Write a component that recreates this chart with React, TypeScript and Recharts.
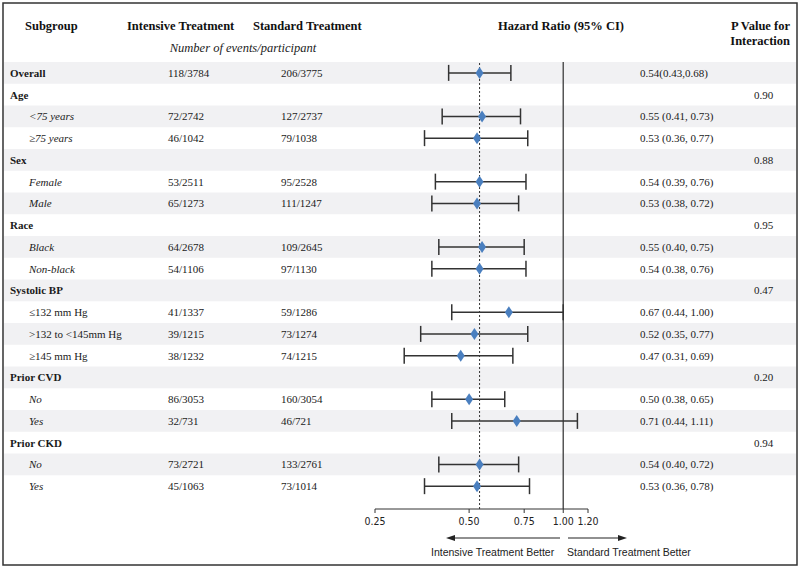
import { ScatterChart, Scatter, XAxis, YAxis, ErrorBar, ReferenceLine } from "recharts"

const subgroups = ["Overall", "Age", "<75 years", "≥75 years", "Sex", "Female", "Male", "Race", "Black", "Non-black",
  "Systolic BP", "≤132 mm Hg", ">132 to <145mm Hg", "≥145 mm Hg", "Prior CVD", "No", "Yes", "Prior CKD", "No", "Yes"]
const rowKind = ["head", "head", "it", "it", "head", "it", "it", "head", "it", "it",
  "head", "plain", "plain", "plain", "head", "it", "it", "head", "it", "it"]
const intensive = ["118/3784", "", "72/2742", "46/1042", "", "53/2511", "65/1273", "", "64/2678", "54/1106",
  "", "41/1337", "39/1215", "38/1232", "", "86/3053", "32/731", "", "73/2721", "45/1063"]
const standard = ["206/3775", "", "127/2737", "79/1038", "", "95/2528", "111/1247", "", "109/2645", "97/1130",
  "", "59/1286", "73/1274", "74/1215", "", "160/3054", "46/721", "", "133/2761", "73/1014"]
const hr = [0.54, null, 0.55, 0.53, null, 0.54, 0.53, null, 0.55, 0.54, null, 0.67, 0.52, 0.47, null, 0.50, 0.71, null, 0.54, 0.53]
const lo = [0.43, null, 0.41, 0.36, null, 0.39, 0.38, null, 0.40, 0.38, null, 0.44, 0.35, 0.31, null, 0.38, 0.44, null, 0.40, 0.36]
const hi = [0.68, null, 0.73, 0.77, null, 0.76, 0.72, null, 0.75, 0.76, null, 1.00, 0.77, 0.69, null, 0.65, 1.11, null, 0.72, 0.78]
const hrText = ["0.54(0.43,0.68)", "", "0.55 (0.41, 0.73)", "0.53 (0.36, 0.77)", "", "0.54 (0.39, 0.76)", "0.53 (0.38, 0.72)", "",
  "0.55 (0.40, 0.75)", "0.54 (0.38, 0.76)", "", "0.67 (0.44, 1.00)", "0.52 (0.35, 0.77)", "0.47 (0.31, 0.69)", "",
  "0.50 (0.38, 0.65)", "0.71 (0.44, 1.11)", "", "0.54 (0.40, 0.72)", "0.53 (0.36, 0.78)"]
const pValues = ["", "0.90", "", "", "0.88", "", "", "0.95", "", "", "0.47", "", "", "", "0.20", "", "", "0.94", "", ""]
const overallHR = 0.54
const xTicks = [0.25, 0.5, 0.75, 1, 1.2]

const points = hr
  .map((v, i) => (v == null ? null : { row: i, hr: v, err: [v - (lo[i] as number), (hi[i] as number) - v] }))
  .filter(Boolean)

const serif = "'Liberation Serif', 'Times New Roman', serif"
const sans = "'Liberation Sans', Arial, sans-serif"
const rowH = 21.75
const rowIdx = subgroups.map((_, i) => i)
const chartMargin = { top: 62, right: 212, bottom: 30, left: 5 }

// stripes, drawn in a chart behind the main one so they sit under the marks
function StripeTick({ y, payload }) {
  if (payload.value % 2 !== 0) return <g />
  return <rect x={4} y={y - rowH / 2} width={792} height={rowH} fill="#f1f1f3" />
}

function RowTick({ y, payload }) {
  const i = payload.value
  const kind = rowKind[i]
  return (
    <g fontFamily={serif} fontSize={11} fill="#1a1a1a">
      <text x={kind === "head" ? 10 : 29} y={y + 4} fontWeight={kind === "head" ? "bold" : "normal"}
        fontStyle={kind === "it" ? "italic" : "normal"} fill="#1a1a1a">{subgroups[i]}</text>
      <text x={168} y={y + 4} fill="#1a1a1a">{intensive[i]}</text>
      <text x={281} y={y + 4} fill="#1a1a1a">{standard[i]}</text>
      <text x={640} y={y + 4} fill="#1a1a1a">{hrText[i]}</text>
      <text x={754} y={y + 4} fill="#1a1a1a">{pValues[i]}</text>
    </g>
  )
}

function Diamond({ cx, cy }) {
  return <polygon points={`${cx},${cy - 6} ${cx + 4},${cy} ${cx},${cy + 6} ${cx - 4},${cy}`} fill="#4a7fbf" />
}

export default function App() {
  return (
    <div style={{ position: "absolute", left: 0, top: 0, width: 800, height: 569, background: "#fff" }}>
      <div style={{ position: "absolute", left: 0, top: 0 }}>
        <ScatterChart width={800} height={569} margin={chartMargin}>
          <YAxis type="number" dataKey="row" domain={[-0.5, 20.05]} reversed width={370}
            ticks={rowIdx} interval={0} axisLine={false} tickLine={false} tick={StripeTick} />
          <XAxis type="number" dataKey="hr" scale="log" domain={[0.25, 1.2]} allowDataOverflow height={30}
            axisLine={false} tickLine={false} tick={false} />
          <Scatter data={points} shape={() => <g />} isAnimationActive={false} />
        </ScatterChart>
      </div>
      <div style={{ position: "absolute", left: 0, top: 0 }}>
        <ScatterChart width={800} height={569} margin={chartMargin}>
          <YAxis type="number" dataKey="row" domain={[-0.5, 20.05]} reversed width={370}
            ticks={rowIdx} interval={0} axisLine={false} tickLine={false} tick={RowTick} />
          <XAxis type="number" dataKey="hr" scale="log" domain={[0.25, 1.2]} ticks={xTicks} interval={0}
            allowDataOverflow height={30} stroke="#333" tickSize={4} tickMargin={5}
            tickFormatter={v => v.toFixed(2)}
            tick={{ fontFamily: "'Liberation Sans Narrow', 'DejaVu Sans Condensed', sans-serif", fontSize: 10.5, fill: "#222" }} />
          <ReferenceLine x={1} stroke="#555" strokeWidth={1.5} />
          <ReferenceLine x={overallHR} stroke="#333" strokeDasharray="2 2" />
          <Scatter data={points} shape={Diamond} isAnimationActive={false}>
            <ErrorBar dataKey="err" direction="x" width={8} stroke="#333" strokeWidth={1.5} isAnimationActive={false} />
          </Scatter>
        </ScatterChart>
      </div>
      <svg width={800} height={569} style={{ position: "absolute", left: 0, top: 0, pointerEvents: "none" }}>
        <rect x={3} y={3} width={794} height={562} fill="none" stroke="#333" strokeWidth={1.5} />
        <g fontFamily={serif} fontSize={12.5} fontWeight="bold" fill="#111">
          <text x={25} y={30}>Subgroup</text>
          <text x={127} y={30}>Intensive Treatment</text>
          <text x={253} y={30}>Standard Treatment</text>
          <text x={561} y={30} textAnchor="middle">Hazard Ratio (95% CI)</text>
          <text x={790} y={30} textAnchor="end">P Value for</text>
          <text x={790} y={45} textAnchor="end">Interaction</text>
        </g>
        <text x={243} y={52} textAnchor="middle" fontFamily={serif} fontSize={12.5} fontStyle="italic" fill="#222">
          Number of events/participant
        </text>
        <line x1={560} y1={538} x2={454} y2={538} stroke="#222" strokeWidth={1.2} />
        <polygon points="446,538 455,535 455,541" fill="#222" />
        <line x1={568} y1={538} x2={619} y2={538} stroke="#222" strokeWidth={1.2} />
        <polygon points="627,538 618,535 618,541" fill="#222" />
        <g fontFamily={sans} fontSize={10.5} fill="#222">
          <text x={431} y={556}>Intensive Treatment Better</text>
          <text x={567} y={556}>Standard Treatment Better</text>
        </g>
      </svg>
    </div>
  )
}
